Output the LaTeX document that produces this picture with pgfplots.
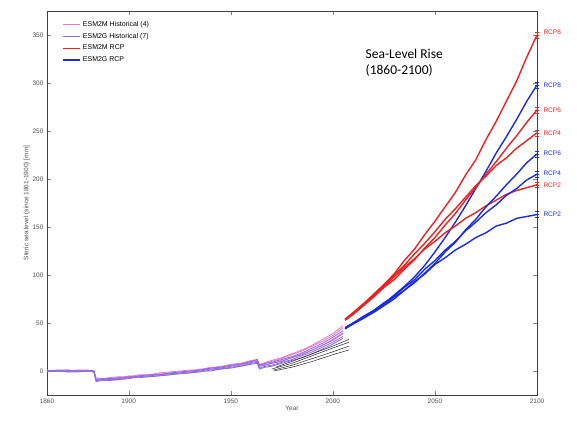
\documentclass[border=0pt]{standalone}
\usepackage{fontspec}
\setmainfont{Liberation Sans}
\newfontfamily\calibri{Carlito}
\usepackage{pgfplots}
\pgfplotsset{compat=1.18}
\definecolor{histM}{RGB}{225,120,200}
\definecolor{histG}{RGB}{135,105,230}
\definecolor{rcpM}{RGB}{230,35,35}
\definecolor{rcpG}{RGB}{25,45,220}
\definecolor{txt}{RGB}{80,80,80}
\begin{document}
\begin{tikzpicture}
\begin{axis}[
  at={(0,0)}, anchor=south west,
  scale only axis, width=490pt, height=384pt,
  xmin=1860, xmax=2100, ymin=-25, ymax=375,
  xtick={1860,1900,1950,2000,2050,2100},
  ytick={0,50,100,150,200,250,300,350},
  xticklabel style={/pgf/number format/1000 sep={}},
  /pgf/number format/assume math mode=true,
  tick label style={font=\fontsize{6.5}{7}\selectfont, text=txt},
  tick align=inside, major tick length=4pt,
  xtick pos=both, ytick pos=both,
  axis line style={black!75, line width=0.8pt},
  xlabel={Year}, ylabel={Steric sea level (since 1861-1900) [mm]},
  label style={font=\fontsize{6.5}{7}\selectfont, text=txt},
  xlabel style={yshift=4pt}, ylabel style={yshift=-4pt},
  clip=false,
  legend style={draw=none, fill=none, at={(0.025,0.985)}, anchor=north west,
    font=\fontsize{7}{8}\selectfont, row sep=1.5pt},
  legend cell align=left,
]
% historical members
\addplot[histM, line width=0.8pt] coordinates {(1860,0)(1865,0.5)(1870,0.5)(1875,-0.5)(1880,0)(1883,0.5)(1884,-8)(1887,-9)(1890,-9)(1895,-7)(1900,-6)(1905,-5)(1910,-5)(1915,-3)(1920,-3)(1925,-1)(1930,-1)(1935,1)(1940,2)(1945,3)(1950,5)(1955,6)(1960,9)(1963,10)(1964,5)(1967,7)(1970,8)(1975,11)(1980,14)(1985,18)(1990,22)(1995,27)(2000,33)(2005,40)};
\addlegendentry{ESM2M Historical (4)}
\addplot[histG, line width=0.8pt] coordinates {(1860,0)(1865,-0.5)(1870,-0.5)(1875,0)(1880,0)(1883,-1)(1884,-10)(1887,-9)(1890,-10)(1895,-9)(1900,-7)(1905,-7)(1910,-6)(1915,-5)(1920,-4)(1925,-3)(1930,-2)(1935,-1)(1940,1)(1945,2)(1950,4)(1955,5)(1960,8)(1963,9)(1964,3)(1967,5)(1970,6)(1975,9)(1980,12)(1985,16)(1990,20)(1995,25)(2000,30)(2005,36)};
\addlegendentry{ESM2G Historical (7)}
\addplot[rcpM, line width=1.4pt] coordinates {(2006,54)(2010,61)(2015,70)(2020,80)(2025,90)(2030,101)(2035,115)(2040,127)(2045,142)(2050,156)(2055,171)(2060,186)(2065,204)(2070,220)(2075,241)(2080,260)(2085,281)(2090,302)(2095,327)(2100,350)};
\addlegendentry{ESM2M RCP}
\addplot[rcpG, line width=1.4pt] coordinates {(2006,45)(2010,50)(2015,56)(2020,63)(2025,70)(2030,79)(2035,88)(2040,98)(2045,110)(2050,124)(2055,139)(2060,155)(2065,172)(2070,190)(2075,208)(2080,227)(2085,244)(2090,262)(2095,281)(2100,298)};
\addlegendentry{ESM2G RCP}
% more historical members
\addplot[histM, line width=0.8pt, forget plot] coordinates {(1860,1)(1865,0)(1870,0)(1875,1)(1880,1)(1883,0)(1884,-9)(1887,-8)(1890,-8)(1895,-8)(1900,-5)(1905,-6)(1910,-4)(1915,-4)(1920,-2)(1925,-2)(1930,0)(1935,2)(1940,3)(1945,5)(1950,6)(1955,8)(1960,10)(1963,11)(1964,7)(1967,8)(1970,10)(1975,13)(1980,17)(1985,21)(1990,26)(1995,31)(2000,37)(2005,45)};
\addplot[histM, line width=0.8pt, forget plot] coordinates {(1860,0)(1865,0)(1870,1)(1875,0)(1880,-0.5)(1883,0)(1884,-7)(1887,-8)(1890,-7)(1895,-6)(1900,-6)(1905,-4)(1910,-4)(1915,-2)(1920,-1)(1925,0)(1930,1)(1935,1)(1940,4)(1945,4)(1950,7)(1955,8)(1960,11)(1963,12)(1964,6)(1967,9)(1970,11)(1975,14)(1980,18)(1985,22)(1990,27)(1995,33)(2000,39)(2005,47)};
\addplot[histG, line width=0.8pt, forget plot] coordinates {(1860,0)(1865,1)(1870,1)(1875,0)(1880,0.5)(1883,0)(1884,-9)(1887,-8)(1890,-8)(1895,-7)(1900,-7)(1905,-5)(1910,-4)(1915,-4)(1920,-2)(1925,-1)(1930,0)(1935,1)(1940,3)(1945,4)(1950,6)(1955,7)(1960,10)(1963,12)(1964,6)(1967,8)(1970,9)(1975,12)(1980,15)(1985,19)(1990,24)(1995,29)(2000,35)(2005,42)};
\addplot[histG, line width=0.8pt, forget plot] coordinates {(1860,-1)(1865,0)(1870,-1)(1875,-1)(1880,0)(1883,-1)(1884,-11)(1887,-10)(1890,-9)(1895,-9)(1900,-8)(1905,-6)(1910,-6)(1915,-5)(1920,-4)(1925,-2)(1930,-2)(1935,0)(1940,0)(1945,2)(1950,3)(1955,5)(1960,7)(1963,8)(1964,2)(1967,4)(1970,5)(1975,8)(1980,11)(1985,14)(1990,18)(1995,23)(2000,28)(2005,34)};
\addplot[histG!80!histM, line width=0.8pt, forget plot] coordinates {(1860,0)(1865,0)(1870,0)(1875,0.5)(1880,0)(1883,-0.5)(1884,-9)(1887,-9)(1890,-8)(1895,-8)(1900,-6)(1905,-6)(1910,-5)(1915,-4)(1920,-3)(1925,-2)(1930,-1)(1935,0)(1940,2)(1945,3)(1950,5)(1955,7)(1960,9)(1963,10)(1964,5)(1967,6)(1970,8)(1975,10)(1980,14)(1985,17)(1990,22)(1995,27)(2000,32)(2005,39)};
% observations
\addplot[black!85, line width=0.5pt, forget plot] coordinates {(1971,0)(1980,4)(1990,10)(2000,17)(2008,22)};
\addplot[black!85, line width=0.5pt, forget plot] coordinates {(1971,1)(1980,6)(1990,13)(2000,20)(2008,26)};
\addplot[black!85, line width=0.5pt, forget plot] coordinates {(1970,2)(1980,8)(1990,16)(2000,24)(2008,30)};
\addplot[black!85, line width=0.5pt, forget plot] coordinates {(1972,4)(1980,10)(1990,18)(2000,26)(2008,33)};
% RCP ESM2M
\addplot[rcpM, line width=1.4pt, forget plot] coordinates {(2006,53)(2010,59)(2015,68)(2020,77)(2025,87)(2030,95)(2035,106)(2040,116)(2045,128)(2050,139)(2055,152)(2060,164)(2065,178)(2070,191)(2075,205)(2080,218)(2085,232)(2090,245)(2095,259)(2100,272)};
\addplot[rcpM, line width=1.4pt, forget plot] coordinates {(2006,54)(2010,60)(2015,70)(2020,79)(2025,89)(2030,100)(2035,110)(2040,122)(2045,133)(2050,145)(2055,158)(2060,169)(2065,181)(2070,193)(2075,203)(2080,214)(2085,222)(2090,232)(2095,240)(2100,248)};
\addplot[rcpM, line width=1.4pt, forget plot] coordinates {(2006,53)(2010,60)(2015,69)(2020,78)(2025,88)(2030,98)(2035,108)(2040,117)(2045,127)(2050,135)(2055,144)(2060,151)(2065,159)(2070,165)(2075,172)(2080,178)(2085,184)(2090,188)(2095,191)(2100,194)};
% RCP ESM2G
\addplot[rcpG, line width=1.4pt, forget plot] coordinates {(2006,44)(2010,49)(2015,55)(2020,61)(2025,68)(2030,75)(2035,84)(2040,92)(2045,102)(2050,112)(2055,124)(2060,134)(2065,147)(2070,158)(2075,171)(2080,182)(2085,194)(2090,205)(2095,217)(2100,226)};
\addplot[rcpG, line width=1.4pt, forget plot] coordinates {(2006,45)(2010,50)(2015,57)(2020,63)(2025,71)(2030,78)(2035,87)(2040,95)(2045,106)(2050,115)(2055,126)(2060,135)(2065,146)(2070,155)(2075,165)(2080,173)(2085,183)(2090,190)(2095,199)(2100,205)};
\addplot[rcpG, line width=1.4pt, forget plot] coordinates {(2006,44)(2010,50)(2015,55)(2020,62)(2025,69)(2030,77)(2035,84)(2040,93)(2045,101)(2050,111)(2055,118)(2060,126)(2065,132)(2070,139)(2075,144)(2080,151)(2085,154)(2090,159)(2095,161)(2100,163)};
% end markers
\addplot[rcpM, only marks, mark=-, mark size=2pt, forget plot, error bars/.cd, y dir=both, y fixed=3] coordinates {(2100,350)(2100,272)(2100,248)(2100,194)};
\addplot[rcpG, only marks, mark=-, mark size=2pt, forget plot, error bars/.cd, y dir=both, y fixed=3] coordinates {(2100,298)(2100,226)(2100,205)(2100,163)};
% labels
\node[anchor=west, text=rcpM, font=\fontsize{6.5}{7}\selectfont] at (axis cs:2100,353) {\hspace{3pt}RCP8};
\node[anchor=west, text=rcpG, font=\fontsize{6.5}{7}\selectfont] at (axis cs:2100,298) {\hspace{3pt}RCP8};
\node[anchor=west, text=rcpM, font=\fontsize{6.5}{7}\selectfont] at (axis cs:2100,272) {\hspace{3pt}RCP6};
\node[anchor=west, text=rcpM, font=\fontsize{6.5}{7}\selectfont] at (axis cs:2100,248) {\hspace{3pt}RCP4};
\node[anchor=west, text=rcpG, font=\fontsize{6.5}{7}\selectfont] at (axis cs:2100,227) {\hspace{3pt}RCP6};
\node[anchor=west, text=rcpG, font=\fontsize{6.5}{7}\selectfont] at (axis cs:2100,206) {\hspace{3pt}RCP4};
\node[anchor=west, text=rcpM, font=\fontsize{6.5}{7}\selectfont] at (axis cs:2100,193) {\hspace{3pt}RCP2};
\node[anchor=west, text=rcpG, font=\fontsize{6.5}{7}\selectfont] at (axis cs:2100,163) {\hspace{3pt}RCP2};
\node[anchor=north west, align=left, font=\calibri\fontsize{13.5}{16}\selectfont, inner sep=0pt] at (rel axis cs:0.65,0.9) {Sea-Level Rise\\(1860-2100)};
\end{axis}
\pgfresetboundingbox
\path (-47pt,-26pt) rectangle (530pt,395pt);
\end{tikzpicture}
\end{document}
